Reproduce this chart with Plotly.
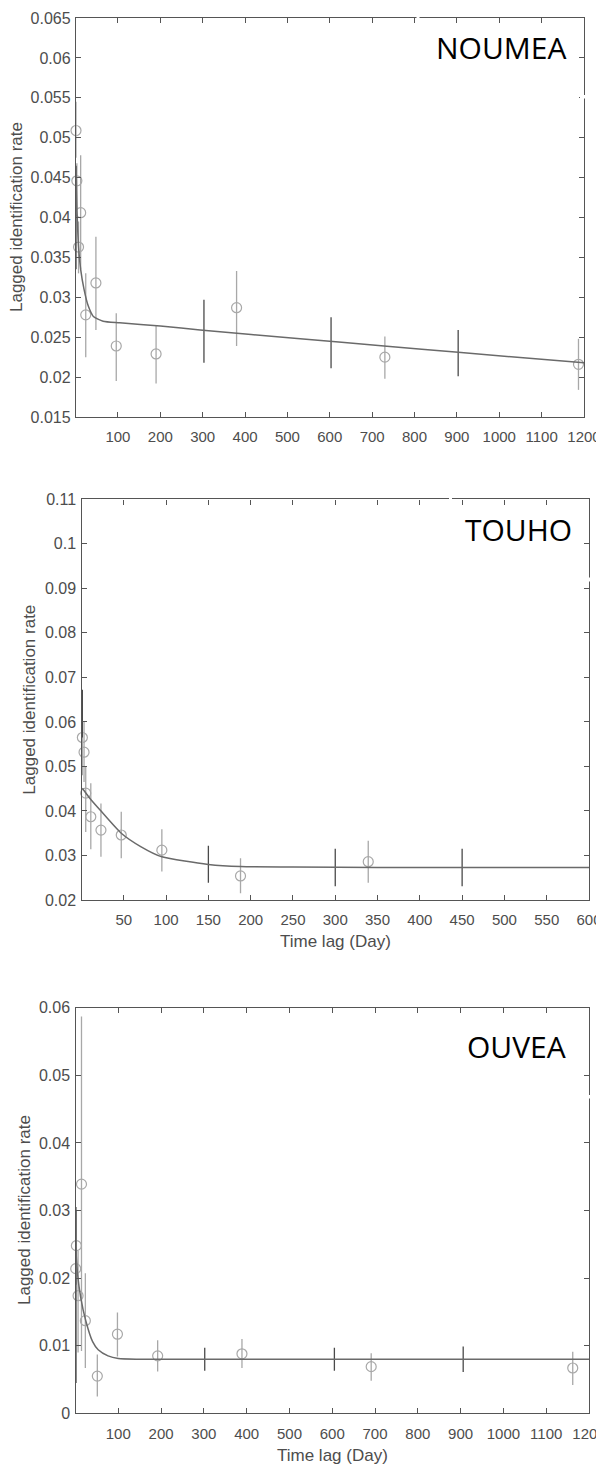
import plotly.graph_objects as go

W, H = 604, 1465
OFF = 8  # page body margin: the figure is drawn 8px right/down of the window corner

# ---------------- DATA ----------------
# NOUMEA
nou_days = [1, 3, 7, 12, 24, 48, 96, 190, 380, 730, 1187]
nou_vals = [0.0509, 0.0446, 0.0363, 0.0406, 0.0278, 0.0318, 0.0239, 0.0229, 0.0287, 0.0225, 0.0216]
nou_hi = [0.0545, 0.0468, 0.0395, 0.0478, 0.0330, 0.0376, 0.0280, 0.0264, 0.0333, 0.0251, 0.0248]
nou_lo = [0.0475, 0.0410, 0.0330, 0.0335, 0.0225, 0.0259, 0.0195, 0.0192, 0.0239, 0.0198, 0.0184]
nou_bar_days = [1, 303, 603, 903]
nou_bar_hi = [0.0465, 0.0297, 0.0275, 0.0259]
nou_bar_lo = [0.0335, 0.0218, 0.0211, 0.0201]
nou_fit_days = [1, 3, 7, 12, 20, 30, 42, 65, 104, 200, 294, 530, 728, 903, 1200]
nou_fit_vals = [0.0464, 0.0415, 0.0364, 0.0335, 0.0310, 0.0289, 0.0276, 0.0270, 0.0268,
                0.0264, 0.0259, 0.0248, 0.0239, 0.0231, 0.0218]

# TOUHO
tou_days = [1, 3, 5, 11, 23, 47, 95, 188, 339]
tou_vals = [0.0565, 0.0532, 0.0440, 0.0387, 0.0357, 0.0346, 0.0312, 0.0254, 0.0286]
tou_hi = [0.0631, 0.0600, 0.0499, 0.0462, 0.0417, 0.0398, 0.0359, 0.0294, 0.0333]
tou_lo = [0.0480, 0.0465, 0.0353, 0.0314, 0.0297, 0.0294, 0.0264, 0.0215, 0.0239]
tou_bar_days = [1, 150, 300, 450]
tou_bar_hi = [0.0672, 0.0322, 0.0315, 0.0315]
tou_bar_lo = [0.0565, 0.0239, 0.0231, 0.0231]
tou_fit_days = [1, 10, 22, 47, 70, 95, 150, 188, 250, 350, 600]
tou_fit_vals = [0.0451, 0.0428, 0.0402, 0.0350, 0.0320, 0.0297, 0.0280, 0.0275, 0.0274, 0.0273, 0.0273]

# OUVEA
ouv_days = [0.5, 2, 6, 14, 23, 51, 98, 192, 389, 691, 1162]
ouv_vals = [0.0214, 0.0248, 0.0174, 0.0339, 0.0137, 0.0055, 0.0117, 0.0085, 0.0088, 0.0069, 0.0067]
ouv_hi = [0.0300, 0.0300, 0.0240, 0.0587, 0.0207, 0.0087, 0.0149, 0.0108, 0.0110, 0.0089, 0.0091]
ouv_lo = [0.0045, 0.0190, 0.0090, 0.0092, 0.0067, 0.0025, 0.0084, 0.0062, 0.0067, 0.0048, 0.0042]
ouv_bar_days = [1, 302, 605, 906]
ouv_bar_hi = [0.0305, 0.0097, 0.0097, 0.0099]
ouv_bar_lo = [0.0045, 0.0063, 0.0063, 0.0061]
ouv_fit_days = [0.5, 5, 12, 24, 40, 53, 76, 100, 150, 1200]
ouv_fit_vals = [0.0246, 0.0205, 0.0172, 0.0137, 0.0106, 0.0094, 0.0085, 0.0081, 0.0080, 0.0080]

labels = ["NOUMEA", "TOUHO", "OUVEA"]

# ---------------- STYLE ----------------
CIRCLE = "#a8a8a8"
DARKBAR = "#4a4a4a"
FIT = "#6a6a6a"
AXIS = "#555555"
TXT = "#4d4d4d"
FONT = "Liberation Sans, Arial, Helvetica, sans-serif"

def px_x(p):
    return (p - OFF) / W

def px_y(p):
    return 1 - (p - OFF) / H

panels = [
    dict(x=(76, 584), y=(18, 417), xr=[1, 1200], yr=[0.015, 0.065],
         xt=list(range(100, 1201, 100)),
         yt=[0.015, 0.02, 0.025, 0.03, 0.035, 0.04, 0.045, 0.05, 0.055, 0.06, 0.065],
         xtitle=None,
         data=(nou_days, nou_vals, nou_hi, nou_lo, nou_bar_days, nou_bar_hi, nou_bar_lo,
               nou_fit_days, nou_fit_vals),
         label=labels[0], lab=(568, 47.5), ytx=16.5),
    dict(x=(81.5, 589), y=(499.3, 900), xr=[0, 600], yr=[0.02, 0.11],
         xt=list(range(50, 601, 50)),
         yt=[0.02, 0.03, 0.04, 0.05, 0.06, 0.07, 0.08, 0.09, 0.1, 0.11],
         xtitle="Time lag (Day)", xty=941,
         data=(tou_days, tou_vals, tou_hi, tou_lo, tou_bar_days, tou_bar_hi, tou_bar_lo,
               tou_fit_days, tou_fit_vals),
         label=labels[1], lab=(574, 529.5), ytx=30),
    dict(x=(75.5, 589), y=(1007.7, 1413.3), xr=[0, 1200], yr=[0, 0.06],
         xt=list(range(100, 1201, 100)),
         yt=[0, 0.01, 0.02, 0.03, 0.04, 0.05, 0.06],
         xtitle="Time lag (Day)", xty=1455.5,
         data=(ouv_days, ouv_vals, ouv_hi, ouv_lo, ouv_bar_days, ouv_bar_hi, ouv_bar_lo,
               ouv_fit_days, ouv_fit_vals),
         label=labels[2], lab=(568, 1046), ytx=24.5),
]

fig = go.Figure()
annotations = []
shapes = []

def fmt(v):
    s = ("%.3f" % v).rstrip("0").rstrip(".")
    return s if s else "0"

for i, p in enumerate(panels, start=1):
    xa = "x" if i == 1 else "x%d" % i
    ya = "y" if i == 1 else "y%d" % i
    days, vals, hi, lo, bdays, bhi, blo, fdays, fvals = p["data"]

    # circles with light error bars
    fig.add_trace(go.Scatter(
        x=days, y=vals, mode="markers", xaxis=xa, yaxis=ya, showlegend=False,
        cliponaxis=False,
        marker=dict(symbol="circle-open", size=10, color=CIRCLE, line=dict(width=1.2, color=CIRCLE)),
        error_y=dict(type="data", symmetric=False,
                     array=[h - v for h, v in zip(hi, vals)],
                     arrayminus=[v - l for v, l in zip(vals, lo)],
                     color=CIRCLE, thickness=1.3, width=0),
    ))
    # standalone darker error bars
    mids = [(h + l) / 2 for h, l in zip(bhi, blo)]
    fig.add_trace(go.Scatter(
        x=bdays, y=mids, mode="markers", xaxis=xa, yaxis=ya, showlegend=False,
        marker=dict(size=1, color="rgba(0,0,0,0)"),
        error_y=dict(type="data", symmetric=False,
                     array=[h - m for h, m in zip(bhi, mids)],
                     arrayminus=[m - l for m, l in zip(mids, blo)],
                     color=DARKBAR, thickness=1.3, width=0),
    ))
    # fitted curve
    fig.add_trace(go.Scatter(
        x=fdays, y=fvals, mode="lines", xaxis=xa, yaxis=ya, showlegend=False,
        line=dict(color=FIT, width=1.5, shape="spline", smoothing=0.6),
    ))

    axkey_x = "xaxis" if i == 1 else "xaxis%d" % i
    axkey_y = "yaxis" if i == 1 else "yaxis%d" % i
    common = dict(showline=True, linecolor=AXIS, linewidth=1.4, mirror="allticks",
                  ticks="inside", ticklen=5, tickwidth=1.1, tickcolor=AXIS,
                  showgrid=False, zeroline=False, automargin=False)
    fig.layout[axkey_x] = dict(domain=[px_x(p["x"][0]), px_x(p["x"][1])],
                               range=p["xr"], anchor=ya, tickmode="array",
                               tickvals=p["xt"], ticktext=[str(t) for t in p["xt"]],
                               tickfont=dict(family=FONT, size=15, color=TXT),
                               ticklabelstandoff=6,
                               **common)
    fig.layout[axkey_y] = dict(domain=[px_y(p["y"][1]), px_y(p["y"][0])],
                               range=p["yr"], anchor=xa, tickmode="array",
                               tickvals=p["yt"], ticktext=[fmt(t) for t in p["yt"]],
                               tickfont=dict(family=FONT, size=16, color=TXT),
                               ticklabelstandoff=1,
                               **common)

    # y title
    ycen = (p["y"][0] + p["y"][1]) / 2
    annotations.append(dict(text="Lagged identification rate", textangle=-90,
                            x=px_x(p["ytx"]), y=px_y(ycen),
                            xref="paper", yref="paper", showarrow=False,
                            xanchor="center", yanchor="middle",
                            font=dict(family=FONT, size=17, color=TXT)))
    if p["xtitle"]:
        xcen = (p["x"][0] + p["x"][1]) / 2
        annotations.append(dict(text=p["xtitle"], x=px_x(xcen), y=px_y(p["xty"]),
                                xref="paper", yref="paper", showarrow=False,
                                xanchor="center", yanchor="middle",
                                font=dict(family=FONT, size=17, color=TXT)))
    # panel label
    annotations.append(dict(text=p["label"], x=px_x(p["lab"][0]), y=px_y(p["lab"][1]),
                            xref="paper", yref="paper", showarrow=False,
                            xanchor="right", yanchor="middle",
                            font=dict(family="Open Sans, Noto Sans, sans-serif", size=30, color="#000000")))

# small white gaps in frames (pasted-label artifacts)
gaps = [(416.5, 419.5, 14, 22), (580, 588, 95, 98.5),
        (449, 452, 495, 503), (585, 593, 577.5, 581.5),
        (585, 593, 1095, 1098.5)]
for x0, x1, y0, y1 in gaps:
    shapes.append(dict(type="rect", xref="paper", yref="paper",
                       x0=px_x(x0), x1=px_x(x1), y0=px_y(y1), y1=px_y(y0),
                       fillcolor="white", line=dict(width=0), layer="above"))

fig.update_layout(template="none", width=W, height=H,
                  margin=dict(l=0, r=0, t=0, b=0, pad=0, autoexpand=False),
                  paper_bgcolor="white", plot_bgcolor="white",
                  annotations=annotations, shapes=shapes, showlegend=False)

fig.write_html("out.html")
